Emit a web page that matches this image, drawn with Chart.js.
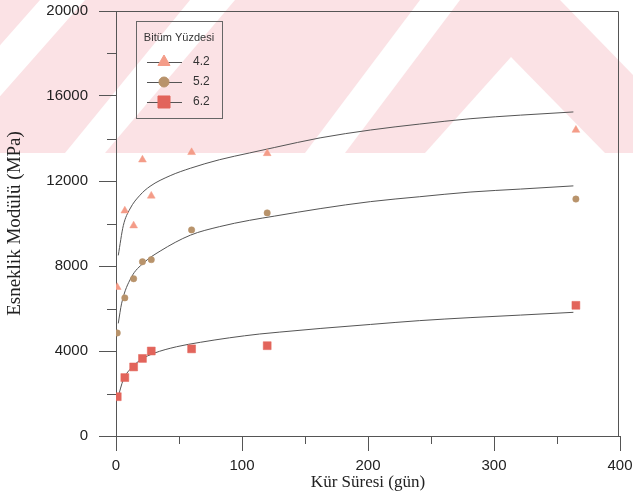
<!DOCTYPE html>
<html>
<head>
<meta charset="utf-8">
<script src="https://cdn.jsdelivr.net/npm/chart.js@4/dist/chart.umd.min.js"></script>
<style>
  body { margin: 0; background: #fff; }
  #chart { display: block; }
</style>
</head>
<body>
<canvas id="chart" width="633" height="501"></canvas>
<script>
// cure times (days) and modulus values
const cureDays = [1, 7, 14, 21, 28, 60, 120, 365];
const mod42 = [7000, 10600, 9900, 13000, 11300, 13350, 13300, 14400];
const mod52 = [4850, 6500, 7400, 8200, 8300, 9700, 10500, 11150];
const mod62 = [1850, 2750, 3250, 3650, 4000, 4100, 4250, 6150];

// fitted curves
const fit42X = [1.8, 5.8, 11, 19, 27, 43, 59, 82, 106, 126, 162, 202, 241, 281, 321, 363];
const fit42Y = [8500, 9900, 10680, 11330, 11750, 12250, 12600, 13000, 13320, 13580, 14030, 14400, 14680, 14930, 15100, 15250];
const fit52X = [1.8, 4.5, 12, 22, 35, 59, 82, 106, 126, 162, 202, 241, 281, 321, 363];
const fit52Y = [5300, 6250, 7450, 8150, 8700, 9450, 9850, 10150, 10350, 10700, 11030, 11260, 11480, 11620, 11770];
const fit62X = [1.5, 5.8, 13, 20, 30, 48, 67, 90, 114, 130, 162, 202, 241, 281, 321, 363];
const fit62Y = [1800, 2650, 3250, 3600, 3890, 4200, 4410, 4620, 4800, 4890, 5060, 5250, 5430, 5570, 5690, 5820];

const legendTitle = 'Bitüm Yüzdesi';
const seriesLabels = ['4.2', '5.2', '6.2'];
const xTitle = 'Kür Süresi (gün)';
const yTitle = 'Esneklik Modülü (MPa)';

const markers = [
  { style: 'triangle', color: '#f49c88', r: 4.5, legendR: 7 },
  { style: 'circle', color: '#b8936b', r: 3.2, legendR: 5 },
  { style: 'rect', color: '#e2645b', r: 5.6, legendR: 8.5 }
];

const pts = (xs, ys) => xs.map((x, i) => ({ x, y: ys[i] }));

const pointSet = (vals, i) => ({
  label: seriesLabels[i],
  data: pts(cureDays, vals),
  showLine: false,
  pointStyle: markers[i].style,
  pointRadius: markers[i].r,
  pointBackgroundColor: markers[i].color,
  pointBorderColor: markers[i].color,
  pointBorderWidth: 0.5,
  order: 0
});

const curveSet = (xs, ys) => ({
  data: pts(xs, ys),
  showLine: true,
  pointRadius: 0,
  borderColor: '#555',
  borderWidth: 1,
  cubicInterpolationMode: 'monotone',
  order: 1
});

// scanned page watermark band across the top
const watermark = {
  id: 'watermark',
  beforeDraw(chart) {
    const ctx = chart.ctx;
    ctx.save();
    ctx.fillStyle = '#fff';
    ctx.fillRect(0, 0, chart.width, chart.height);
    ctx.fillStyle = '#fbe2e5';
    ctx.fillRect(0, 0, chart.width, 153);
    ctx.fillStyle = '#fff';
    const polys = [
      [[40, 0], [85, 0], [-50, 153], [-95, 153]],
      [[190, 0], [235, 0], [105, 153], [65, 153]],
      [[420, 0], [460, 0], [345, 153], [305, 153]],
      [[511, 57], [605, 153], [425, 153]],
      [[560, 0], [633, 0], [633, 75]]
    ];
    for (const p of polys) {
      ctx.beginPath();
      ctx.moveTo(p[0][0], p[0][1]);
      for (let k = 1; k < p.length; k++) ctx.lineTo(p[k][0], p[k][1]);
      ctx.closePath();
      ctx.fill();
    }
    ctx.restore();
  }
};

// top/right border, minor ticks and boxed legend
const frame = {
  id: 'frame',
  afterDraw(chart) {
    const { ctx, chartArea: a, scales: { x, y } } = chart;
    ctx.save();
    ctx.strokeStyle = '#555';
    ctx.lineWidth = 1;
    ctx.beginPath();
    ctx.moveTo(Math.round(a.left) + 0.5, Math.round(a.top) + 0.5);
    ctx.lineTo(Math.round(a.right) - 1.5, Math.round(a.top) + 0.5);
    ctx.lineTo(Math.round(a.right) - 1.5, Math.round(a.bottom) + 0.5);
    for (let v = 50; v < 400; v += 100) {
      const px = Math.round(x.getPixelForValue(v)) + 0.5;
      ctx.moveTo(px, a.bottom);
      ctx.lineTo(px, a.bottom + 8);
    }
    for (let v = 2000; v < 20000; v += 4000) {
      const py = Math.round(y.getPixelForValue(v)) + 0.5;
      ctx.moveTo(a.left - 9, py);
      ctx.lineTo(a.left, py);
    }
    ctx.stroke();

    const bx = a.left + 20, by = a.top + 10, bw = 86, bh = 97;
    ctx.strokeStyle = '#666';
    ctx.strokeRect(Math.round(bx) + 0.5, Math.round(by) + 0.5, bw, bh);
    ctx.fillStyle = '#333';
    ctx.font = '11px "Liberation Sans", Arial, sans-serif';
    ctx.textAlign = 'center';
    ctx.textBaseline = 'middle';
    ctx.fillText(legendTitle, bx + bw / 2, by + 17);
    ctx.font = '12px "Liberation Sans", Arial, sans-serif';
    ctx.textAlign = 'left';
    seriesLabels.forEach((lab, i) => {
      const ly = by + 41 + i * 20;
      ctx.strokeStyle = '#555';
      ctx.beginPath();
      ctx.moveTo(bx + 11, ly + 0.5);
      ctx.lineTo(bx + 46, ly + 0.5);
      ctx.stroke();
      ctx.fillStyle = markers[i].color;
      ctx.strokeStyle = markers[i].color;
      Chart.helpers.drawPoint(ctx, {
        pointStyle: markers[i].style, radius: markers[i].legendR, rotation: 0, borderWidth: 0.5
      }, bx + 28, ly);
      ctx.fillStyle = '#333';
      ctx.fillText(lab, bx + 57, ly);
    });
    ctx.restore();
  }
};

new Chart(document.getElementById('chart'), {
  type: 'scatter',
  data: {
    datasets: [
      pointSet(mod42, 0), pointSet(mod52, 1), pointSet(mod62, 2),
      curveSet(fit42X, fit42Y), curveSet(fit52X, fit52Y), curveSet(fit62X, fit62Y)
    ]
  },
  options: {
    responsive: false,
    animation: false,
    layout: { padding: { left: 0, right: 13, top: 11, bottom: 1 } },
    plugins: { legend: { display: false }, tooltip: { enabled: false } },
    scales: {
      x: {
        type: 'linear', min: 0, max: 400,
        afterFit: (s) => { s.height = 64; s.paddingLeft = 0; s.paddingRight = 0; },
        grid: { drawOnChartArea: false, tickLength: 15, color: '#555' },
        border: { color: '#555' },
        ticks: {
          stepSize: 100, padding: 7, color: '#222',
          font: { family: '"Liberation Sans", Arial, sans-serif', size: 15, lineHeight: 1 },
          callback: (v) => String(v)
        },
        title: {
          display: true, text: xTitle, color: '#222',
          font: { family: '"Liberation Serif", "Times New Roman", serif', size: 17, lineHeight: 1 },
          padding: { top: 0, bottom: 9 }
        }
      },
      y: {
        min: 0, max: 20000,
        afterFit: (s) => { s.width = 116; s.paddingTop = 0; s.paddingBottom = 0; },
        grid: { drawOnChartArea: false, tickLength: 17, color: '#555' },
        border: { color: '#555' },
        ticks: {
          stepSize: 4000, padding: 11, color: '#222',
          font: { family: '"Liberation Sans", Arial, sans-serif', size: 15 },
          callback: (v) => String(v)
        },
        title: {
          display: true, text: yTitle, color: '#222',
          font: { family: '"Liberation Serif", "Times New Roman", serif', size: 19, lineHeight: 1 },
          padding: { top: 5.5, bottom: 21 }
        }
      }
    }
  },
  plugins: [watermark, frame]
});
</script>
</body>
</html>
